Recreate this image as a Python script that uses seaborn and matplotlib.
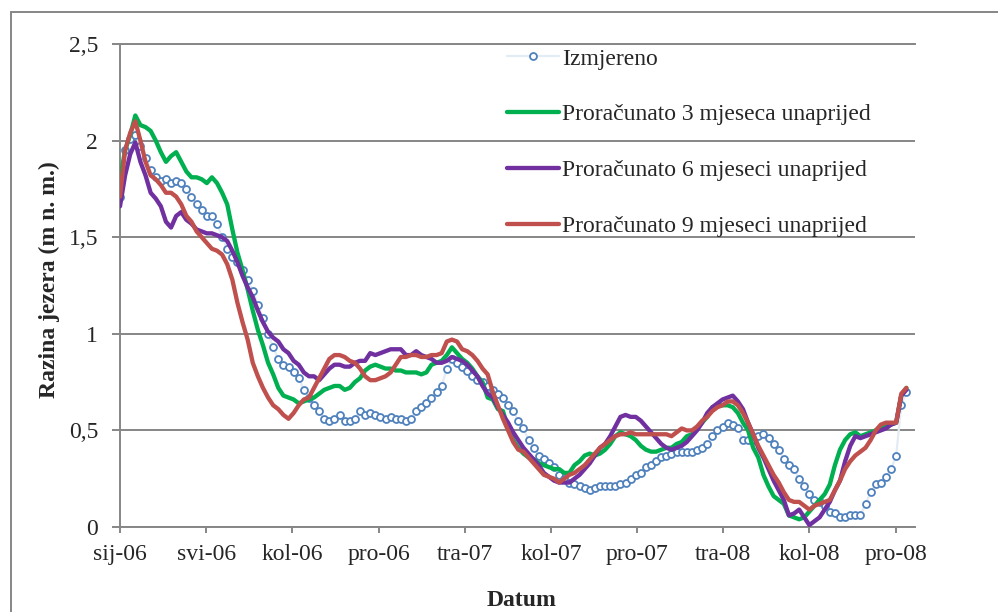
import numpy as np
import pandas as pd
import matplotlib
matplotlib.use("Agg")
import matplotlib.pyplot as plt
from matplotlib.lines import Line2D
import seaborn as sns

# Lake level series, sampled roughly weekly from 1 Jan 2006 to 31 Dec 2008
izmjereno = [
    1.71, 1.95, 2.01, 2.03, 1.97, 1.91, 1.85, 1.81, 1.79, 1.80,
    1.78, 1.79, 1.78, 1.75, 1.71, 1.67, 1.64, 1.61, 1.61, 1.57,
    1.50, 1.44, 1.40, 1.37, 1.33, 1.28, 1.22, 1.15, 1.08, 1.00,
    0.93, 0.87, 0.84, 0.83, 0.80, 0.77, 0.71, 0.67, 0.63, 0.60,
    0.56, 0.55, 0.56, 0.58, 0.55, 0.55, 0.56, 0.60, 0.58, 0.59,
    0.58, 0.57, 0.56, 0.57, 0.56, 0.56, 0.55, 0.56, 0.60, 0.62,
    0.64, 0.67, 0.70, 0.73, 0.82, 0.87, 0.85, 0.83, 0.81, 0.78,
    0.76, 0.75, 0.73, 0.71, 0.69, 0.67, 0.63, 0.60, 0.55, 0.51,
    0.45, 0.41, 0.37, 0.35, 0.33, 0.31, 0.27, 0.25, 0.23, 0.22,
    0.21, 0.20, 0.19, 0.20, 0.21, 0.21, 0.21, 0.21, 0.22, 0.23,
    0.25, 0.27, 0.28, 0.31, 0.32, 0.34, 0.36, 0.37, 0.38, 0.39,
    0.39, 0.39, 0.39, 0.40, 0.41, 0.43, 0.47, 0.50, 0.52, 0.54,
    0.53, 0.51, 0.45, 0.45, 0.45, 0.47, 0.48, 0.46, 0.43, 0.40,
    0.35, 0.32, 0.30, 0.25, 0.21, 0.17, 0.14, 0.13, 0.11, 0.08,
    0.07, 0.05, 0.05, 0.06, 0.06, 0.06, 0.12, 0.18, 0.22, 0.23,
    0.26, 0.30, 0.37, 0.63, 0.70,
]

prognoza_3 = [
    1.80, 1.95, 2.03, 2.13, 2.08, 2.07, 2.05, 2.00, 1.94, 1.89,
    1.92, 1.94, 1.89, 1.84, 1.81, 1.81, 1.80, 1.78, 1.81, 1.78,
    1.73, 1.67, 1.54, 1.42, 1.33, 1.23, 1.12, 1.02, 0.94, 0.85,
    0.79, 0.72, 0.68, 0.67, 0.66, 0.64, 0.65, 0.66, 0.67, 0.69,
    0.71, 0.72, 0.73, 0.73, 0.71, 0.72, 0.75, 0.77, 0.81, 0.83,
    0.84, 0.83, 0.82, 0.82, 0.81, 0.81, 0.80, 0.80, 0.80, 0.79,
    0.80, 0.84, 0.85, 0.86, 0.89, 0.93, 0.90, 0.87, 0.85, 0.82,
    0.78, 0.75, 0.67, 0.66, 0.61, 0.60, 0.51, 0.45, 0.41, 0.38,
    0.36, 0.35, 0.33, 0.32, 0.31, 0.30, 0.30, 0.28, 0.28, 0.32,
    0.34, 0.37, 0.38, 0.37, 0.38, 0.40, 0.43, 0.47, 0.49, 0.48,
    0.47, 0.45, 0.42, 0.40, 0.39, 0.39, 0.40, 0.41, 0.41, 0.43,
    0.44, 0.47, 0.48, 0.51, 0.54, 0.57, 0.62, 0.63, 0.63, 0.63,
    0.62, 0.59, 0.54, 0.50, 0.41, 0.36, 0.27, 0.21, 0.16, 0.14,
    0.12, 0.06, 0.05, 0.04, 0.05, 0.08, 0.11, 0.14, 0.17, 0.22,
    0.32, 0.40, 0.45, 0.48, 0.49, 0.47, 0.48, 0.49, 0.50, 0.51,
    0.52, 0.53, 0.54, 0.68, 0.72,
]

prognoza_6 = [
    1.66, 1.82, 1.93, 1.99, 1.89, 1.82, 1.73, 1.70, 1.66, 1.58,
    1.55, 1.61, 1.63, 1.59, 1.57, 1.54, 1.53, 1.52, 1.52, 1.51,
    1.50, 1.48, 1.43, 1.37, 1.30, 1.24, 1.19, 1.12, 1.06, 1.01,
    0.98, 0.96, 0.92, 0.90, 0.86, 0.84, 0.80, 0.78, 0.78, 0.76,
    0.79, 0.82, 0.84, 0.84, 0.83, 0.83, 0.85, 0.86, 0.86, 0.90,
    0.89, 0.90, 0.91, 0.92, 0.92, 0.92, 0.89, 0.89, 0.91, 0.89,
    0.88, 0.87, 0.85, 0.85, 0.86, 0.88, 0.87, 0.86, 0.84, 0.81,
    0.78, 0.73, 0.69, 0.67, 0.62, 0.58, 0.54, 0.49, 0.45, 0.41,
    0.38, 0.35, 0.32, 0.28, 0.26, 0.24, 0.23, 0.23, 0.23, 0.25,
    0.27, 0.30, 0.33, 0.37, 0.41, 0.43, 0.47, 0.52, 0.57, 0.58,
    0.57, 0.57, 0.55, 0.52, 0.49, 0.46, 0.43, 0.41, 0.40, 0.41,
    0.42, 0.44, 0.47, 0.50, 0.54, 0.59, 0.62, 0.64, 0.66, 0.67,
    0.68, 0.65, 0.61, 0.54, 0.48, 0.41, 0.36, 0.30, 0.24, 0.19,
    0.14, 0.06, 0.07, 0.09, 0.05, 0.01, 0.03, 0.05, 0.09, 0.13,
    0.19, 0.24, 0.34, 0.42, 0.47, 0.46, 0.47, 0.48, 0.49, 0.50,
    0.51, 0.53, 0.54, 0.68, 0.71,
]

prognoza_9 = [
    1.71, 1.95, 2.04, 2.10, 2.00, 1.89, 1.82, 1.80, 1.77, 1.73,
    1.73, 1.71, 1.67, 1.61, 1.58, 1.53, 1.50, 1.47, 1.44, 1.43,
    1.41, 1.36, 1.28, 1.16, 1.06, 0.97, 0.85, 0.78, 0.72, 0.67,
    0.63, 0.61, 0.58, 0.56, 0.59, 0.63, 0.66, 0.67, 0.72, 0.77,
    0.82, 0.87, 0.89, 0.89, 0.88, 0.86, 0.85, 0.82, 0.78, 0.76,
    0.76, 0.77, 0.78, 0.80, 0.84, 0.88, 0.88, 0.89, 0.89, 0.88,
    0.88, 0.89, 0.89, 0.90, 0.96, 0.97, 0.96, 0.92, 0.91, 0.89,
    0.86, 0.82, 0.79, 0.70, 0.63, 0.56, 0.50, 0.44, 0.40, 0.39,
    0.36, 0.33, 0.30, 0.27, 0.26, 0.25, 0.23, 0.25, 0.27, 0.28,
    0.30, 0.32, 0.35, 0.38, 0.41, 0.43, 0.45, 0.47, 0.48, 0.48,
    0.49, 0.48, 0.48, 0.48, 0.48, 0.48, 0.48, 0.48, 0.47, 0.49,
    0.51, 0.50, 0.50, 0.52, 0.55, 0.57, 0.60, 0.62, 0.63, 0.65,
    0.65, 0.63, 0.59, 0.54, 0.48, 0.42, 0.37, 0.32, 0.27, 0.23,
    0.18, 0.14, 0.13, 0.13, 0.11, 0.09, 0.11, 0.12, 0.13, 0.14,
    0.19, 0.24, 0.30, 0.34, 0.37, 0.39, 0.41, 0.45, 0.50, 0.53,
    0.54, 0.54, 0.54, 0.69, 0.72,
]

datumi = pd.date_range("2006-01-01", "2008-12-31", periods=len(izmjereno))

tick_datumi = pd.date_range("2006-01-01", periods=10, freq="120D")
tick_oznake = ["sij-06", "svi-06", "kol-06", "pro-06", "tra-07",
               "kol-07", "pro-07", "tra-08", "kol-08", "pro-08"]
y_ticks = [0, 0.5, 1, 1.5, 2, 2.5]
y_oznake = ["0", "0,5", "1", "1,5", "2", "2,5"]

df = pd.DataFrame({
    "Datum": datumi,
    "Izmjereno": izmjereno,
    "Proračunato 3 mjeseca unaprijed": prognoza_3,
    "Proračunato 6 mjeseci unaprijed": prognoza_6,
    "Proračunato 9 mjeseci unaprijed": prognoza_9,
})

sns.set_style("white")
plt.rcParams["font.family"] = ["Liberation Serif", "DejaVu Serif"]

GRAY = "#868686"
BLUE = "#4f81bd"
GREEN = "#00b050"
PURPLE = "#7030a0"
RED = "#c0504d"
FS = 17

fig = plt.figure(figsize=(9.98, 6.12), dpi=100)
ax = fig.add_axes([120 / 998, 1 - 527 / 612, 795 / 998, 483 / 612])

sns.lineplot(data=df, x="Datum", y="Izmjereno", ax=ax, label="Izmjereno",
             color="#e3ebf5", lw=1.6, marker="o", markersize=5.0,
             markerfacecolor="white", markeredgecolor=BLUE,
             markeredgewidth=1.3, zorder=3)
for col, c in [("Proračunato 3 mjeseca unaprijed", GREEN),
               ("Proračunato 6 mjeseci unaprijed", PURPLE),
               ("Proračunato 9 mjeseci unaprijed", RED)]:
    sns.lineplot(data=df, x="Datum", y=col, ax=ax, label=col,
                 color=c, lw=3.1, zorder=4)

ax.set_ylim(0, 2.5)
ax.set_xlim(pd.Timestamp("2006-01-01"), pd.Timestamp("2009-01-12"))
ax.set_yticks(y_ticks)
ax.set_yticklabels(y_oznake, fontsize=FS)
ax.set_xticks(tick_datumi)
ax.set_xticklabels(tick_oznake, fontsize=FS)

ax.grid(axis="y", color=GRAY, lw=1.4)
ax.grid(axis="x", visible=False)
for side in ["left", "bottom", "top"]:
    ax.spines[side].set_color(GRAY)
    ax.spines[side].set_linewidth(1.4)
ax.spines["right"].set_visible(False)
ax.tick_params(axis="y", direction="out", length=5.8, width=1.4,
               color=GRAY, pad=10, left=True)
ax.tick_params(axis="x", direction="out", length=4.3, width=1.4,
               color=GRAY, pad=8, bottom=True)

ax.set_xlabel("Datum", fontsize=FS, fontweight="bold")
ax.set_ylabel("Razina jezera (m n. m.)", fontsize=FS, fontweight="bold")
ax.xaxis.set_label_coords(0.505, -0.130)
ax.yaxis.set_label_coords(-0.076, 0.513)

leg = ax.legend(loc="upper left", bbox_to_anchor=(507 / 998, 1 - 48 / 612),
                bbox_transform=fig.transFigure, frameon=False, fontsize=FS,
                handlelength=2.2, handletextpad=0.12, labelspacing=1.45,
                borderpad=0, borderaxespad=0)

# chart area border (left and top edges)
fig.add_artist(Line2D([11 / 998, 11 / 998], [1 - 12 / 612, -0.05],
                      transform=fig.transFigure, color=GRAY, lw=1.4))
fig.add_artist(Line2D([11 / 998, 1.05], [1 - 12 / 612, 1 - 12 / 612],
                      transform=fig.transFigure, color=GRAY, lw=1.4))

fig.savefig("out.png", dpi=100)
